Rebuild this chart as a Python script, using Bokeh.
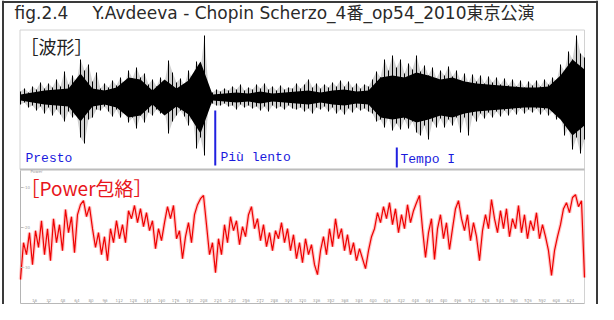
import numpy as np
from bokeh.plotting import figure
from bokeh.models import Range1d
from bokeh.core.properties import value
from bokeh.embed import file_html
from bokeh.resources import INLINE

# ---------------- data ----------------
DURATION = 640  # seconds
title_fig = "fig.2.4"
title_main = "Y.Avdeeva - Chopin Scherzo_4番_op54_2010東京公演"
wave_label = "［波形］"
power_label = "［Power包絡］"
section_names = ["Presto", "Più lento", "Tempo I"]
marker_times = [221, 427]

# waveform peaks (upper / lower amplitude)
wave_top = [6, 9, 5, 11, 8, 15, 9, 14, 10, 18,
            11, 26, 13, 22, 15, 38, 27, 33, 16, 25,
            9, 14, 10, 17, 12, 20, 13, 27, 19, 30,
            20, 24, 13, 18, 11, 20, 14, 37, 25, 15,
            19, 12, 27, 18, 36, 28, 62, 8, 5, 8,
            6, 9, 7, 11, 8, 13, 7, 10, 8, 13,
            9, 14, 8, 11, 7, 12, 8, 10, 9, 14,
            9, 13, 18, 10, 14, 9, 13, 10, 15, 11,
            17, 11, 16, 10, 14, 9, 13, 11, 18, 26,
            20, 38, 27, 42, 30, 38, 24, 34, 28, 42,
            26, 32, 22, 30, 19, 27, 22, 31, 21, 27,
            17, 24, 15, 23, 16, 22, 14, 21, 15, 20,
            13, 19, 12, 18, 11, 17, 10, 16, 12, 17,
            11, 18, 13, 20, 16, 33, 26, 46, 38, 62,
            44, 40]
wave_bot = [7, 5, 10, 8, 13, 9, 16, 10, 18, 12,
            17, 24, 14, 20, 16, 40, 46, 22, 20, 12,
            13, 9, 14, 19, 12, 20, 14, 25, 20, 31,
            18, 25, 15, 18, 12, 16, 13, 36, 24, 18,
            13, 19, 28, 17, 51, 40, 58, 9, 6, 8,
            8, 6, 9, 8, 12, 7, 10, 8, 11, 9,
            13, 9, 14, 8, 11, 9, 12, 8, 11, 12,
            10, 14, 11, 16, 10, 12, 9, 14, 10, 16,
            12, 17, 11, 15, 10, 13, 11, 14, 16, 24,
            22, 30, 20, 33, 26, 32, 22, 31, 24, 35,
            38, 28, 42, 24, 30, 21, 30, 22, 28, 20,
            35, 20, 38, 18, 24, 16, 21, 15, 20, 14,
            19, 13, 18, 12, 17, 11, 16, 12, 15, 11,
            17, 12, 18, 14, 22, 18, 38, 30, 52, 40,
            56, 42]
# dense core of the waveform (half height of the solid band)
wave_core = [3, 5, 7, 8, 9, 24, 9, 7, 10, 20,
             18, 7, 18, 9, 17, 36, 3, 4, 5, 4,
             6, 4, 5, 6, 7, 5, 7, 8, 6, 7,
             20, 22, 20, 25, 22, 18, 20, 16, 14, 13,
             12, 11, 10, 10, 11, 22, 38, 28]

# power envelope (dB)
power_db = [-33.0, -23.8, -26.8, -21.3, -29.3, -20.8, -25.0, -18.3, -26.8, -20.3,
            -28.3, -17.8, -23.8, -19.3, -25.8, -15.5, -21.3, -17.3, -26.3, -16.8,
            -14.3, -13.3, -17.3, -14.8, -20.3, -25.0, -21.3, -26.8, -22.3, -28.3,
            -20.3, -23.8, -18.3, -22.8, -19.3, -23.8, -15.8, -17.8, -14.5, -18.8,
            -15.3, -19.8, -16.3, -20.8, -18.3, -25.3, -20.3, -23.3, -18.8, -14.8,
            -17.8, -14.5, -22.8, -20.8, -27.8, -22.3, -18.8, -23.8, -16.8, -14.3,
            -12.8, -12.0, -19.3, -26.8, -23.8, -31.3, -22.8, -26.8, -19.3, -23.8,
            -17.3, -20.8, -18.3, -24.3, -19.8, -22.3, -16.8, -14.8, -20.3, -17.8,
            -23.3, -19.3, -24.8, -21.3, -25.8, -20.8, -22.8, -18.8, -23.8, -20.3,
            -25.8, -21.8, -27.8, -23.8, -28.8, -22.8, -26.8, -24.3, -29.3, -31.8,
            -25.8, -22.3, -26.8, -20.3, -24.8, -17.8, -22.8, -20.3, -25.8, -21.8,
            -26.8, -23.8, -28.3, -25.3, -27.8, -30.3, -25.8, -22.3, -20.3, -16.3,
            -18.8, -14.8, -17.8, -13.8, -19.3, -15.3, -21.3, -16.8, -20.3, -14.3,
            -18.8, -15.8, -13.8, -12.0, -20.3, -27.5, -21.3, -17.8, -28.0, -20.3,
            -16.8, -22.8, -18.8, -25.5, -20.3, -15.3, -13.3, -17.8, -20.8, -16.8,
            -23.3, -18.8, -22.3, -28.3, -20.8, -16.8, -20.3, -13.0, -17.8, -21.3,
            -15.8, -20.3, -15.3, -22.3, -17.8, -20.3, -14.5, -21.3, -16.8, -22.8,
            -18.3, -20.8, -16.3, -22.8, -19.3, -22.3, -25.8, -32.0, -25.8, -22.3,
            -19.3, -15.3, -13.8, -16.3, -12.5, -11.8, -14.8, -13.3, -32.5]

time_ticks = list(range(16, 640, 16))
power_ticks = [-10, -20, -30]

# ---------------- layout (canvas px) ----------------
W, H = 598, 304
PX0, PX1 = 20, 584
WAVE_CENTER = 97
POW_REF_Y = 147
POW_PX_PER_DB = 4.0
t_per_px = DURATION / (PX1 - PX0)

p = figure(width=W, height=H, x_range=Range1d(0, W), y_range=Range1d(H, 0),
           output_backend="svg", toolbar_location=None,
           x_axis_location=None, y_axis_location=None, min_border=0)
p.title.visible = False
p.grid.visible = False
p.outline_line_color = None
p.background_fill_color = "white"
p.border_fill_color = "white"
p.extra_x_ranges = {"t": Range1d(-PX0 * t_per_px, (W - PX0) * t_per_px)}
p.extra_y_ranges = {
    "wave": Range1d(WAVE_CENTER - H, WAVE_CENTER),
    "pow": Range1d((POW_REF_Y - H) / POW_PX_PER_DB, POW_REF_Y / POW_PX_PER_DB),
}

# outer frame
p.multi_line(xs=[[2.5, 2.5], [2.5, 596.5], [596.5, 596.5]],
             ys=[[0, H], [1.5, 1.5], [0, H]],
             line_color="#3a3a3a", line_width=2)

# waveform panel box
p.multi_line(xs=[[19.5, 19.5], [19.5, 584], [584, 584]],
             ys=[[29.5, 169], [29.5, 29.5], [29.5, 303]],
             line_color="#d2d2d2", line_width=1)
p.line(x=[19.5, 584], y=[169, 169], line_color="#bcbcbc", line_width=2)

# power axes
p.line(x=[20, 20], y=[170, 303], line_color="#b4b4b4", line_width=1)
p.line(x=[20, 584], y=[303, 303], line_color="#b8b8b8", line_width=1)

# waveform
t_wave = np.linspace(0, DURATION, len(wave_top))
t_core = np.linspace(0, DURATION, len(wave_core))
wb = -np.array(wave_bot)
p.varea(x=t_wave, y1=wb, y2=wave_top, x_range_name="t", y_range_name="wave",
        fill_color="#8a8a8a", fill_alpha=0.4)
p.segment(x0=t_wave, x1=t_wave, y0=wb, y1=wave_top, x_range_name="t",
          y_range_name="wave", line_color="black", line_width=1)
p.varea(x=t_core, y1=-np.array(wave_core), y2=wave_core, x_range_name="t",
        y_range_name="wave", fill_color="black")

# power envelope
t_pow = np.linspace(0, DURATION, len(power_db))
p.line(x=t_pow, y=power_db, x_range_name="t", y_range_name="pow",
       line_color="#ff8c8c", line_width=3.5, line_alpha=0.5)
p.line(x=t_pow, y=power_db, x_range_name="t", y_range_name="pow",
       line_color="#ee0000", line_width=1.2)

# section markers
p.segment(x0=marker_times, x1=marker_times, y0=[110, 147], y1=[165, 167],
          x_range_name="t", line_color="#2020e0", line_width=2)

# tiny axis ticks / labels of power panel
p.segment(x0=time_ticks, x1=time_ticks, y0=[303] * len(time_ticks),
          y1=[301] * len(time_ticks), x_range_name="t", line_color="#bbbbbb", line_width=1)
p.text(x=time_ticks, y=[301] * len(time_ticks), text=[str(v) for v in time_ticks],
       x_range_name="t", text_font=value("DejaVu Sans"), text_font_size="4px",
       text_color="#a0a0a0", text_align="center", text_baseline="bottom")
p.segment(x0=[20] * 3, x1=[23] * 3, y0=power_ticks, y1=power_ticks,
          y_range_name="pow", line_color="#bbbbbb", line_width=1)
p.text(x=[23] * 3, y=power_ticks, text=[str(v) for v in power_ticks],
       y_range_name="pow", text_font=value("DejaVu Sans"), text_font_size="4px",
       text_color="#a0a0a0", text_align="left", text_baseline="middle")
p.text(x=[30], y=[171], text=["Power"], text_font=value("DejaVu Sans"),
       text_font_size="4px", text_color="#a0a0a0", text_baseline="middle")

# titles and labels
p.text(x=[14], y=[12], text=[title_fig], text_font=value("DejaVu Sans, Noto Sans CJK JP"),
       text_font_size="17px", text_color="#2a2a2a", text_baseline="middle")
p.text(x=[92], y=[12], text=[title_main], text_font=value("DejaVu Sans, Noto Sans CJK JP"),
       text_font_size="17px", text_color="#2a2a2a", text_baseline="middle")
p.text(x=[20], y=[45], text=[wave_label], text_font=value("Noto Sans CJK JP"),
       text_font_size="18px", text_color="#222222", text_baseline="middle")
p.text(x=[20], y=[187], text=[power_label], text_font=value("Noto Sans CJK JP"),
       text_font_size="19px", text_color="#e8161b", text_baseline="middle")
p.text(x=[25, 220, 400], y=[158, 157, 159], text=section_names,
       text_font=value("Liberation Mono"), text_font_size="13px",
       text_color="#1a1adc", text_baseline="middle")

open("out.html", "w").write(file_html(p, INLINE))
